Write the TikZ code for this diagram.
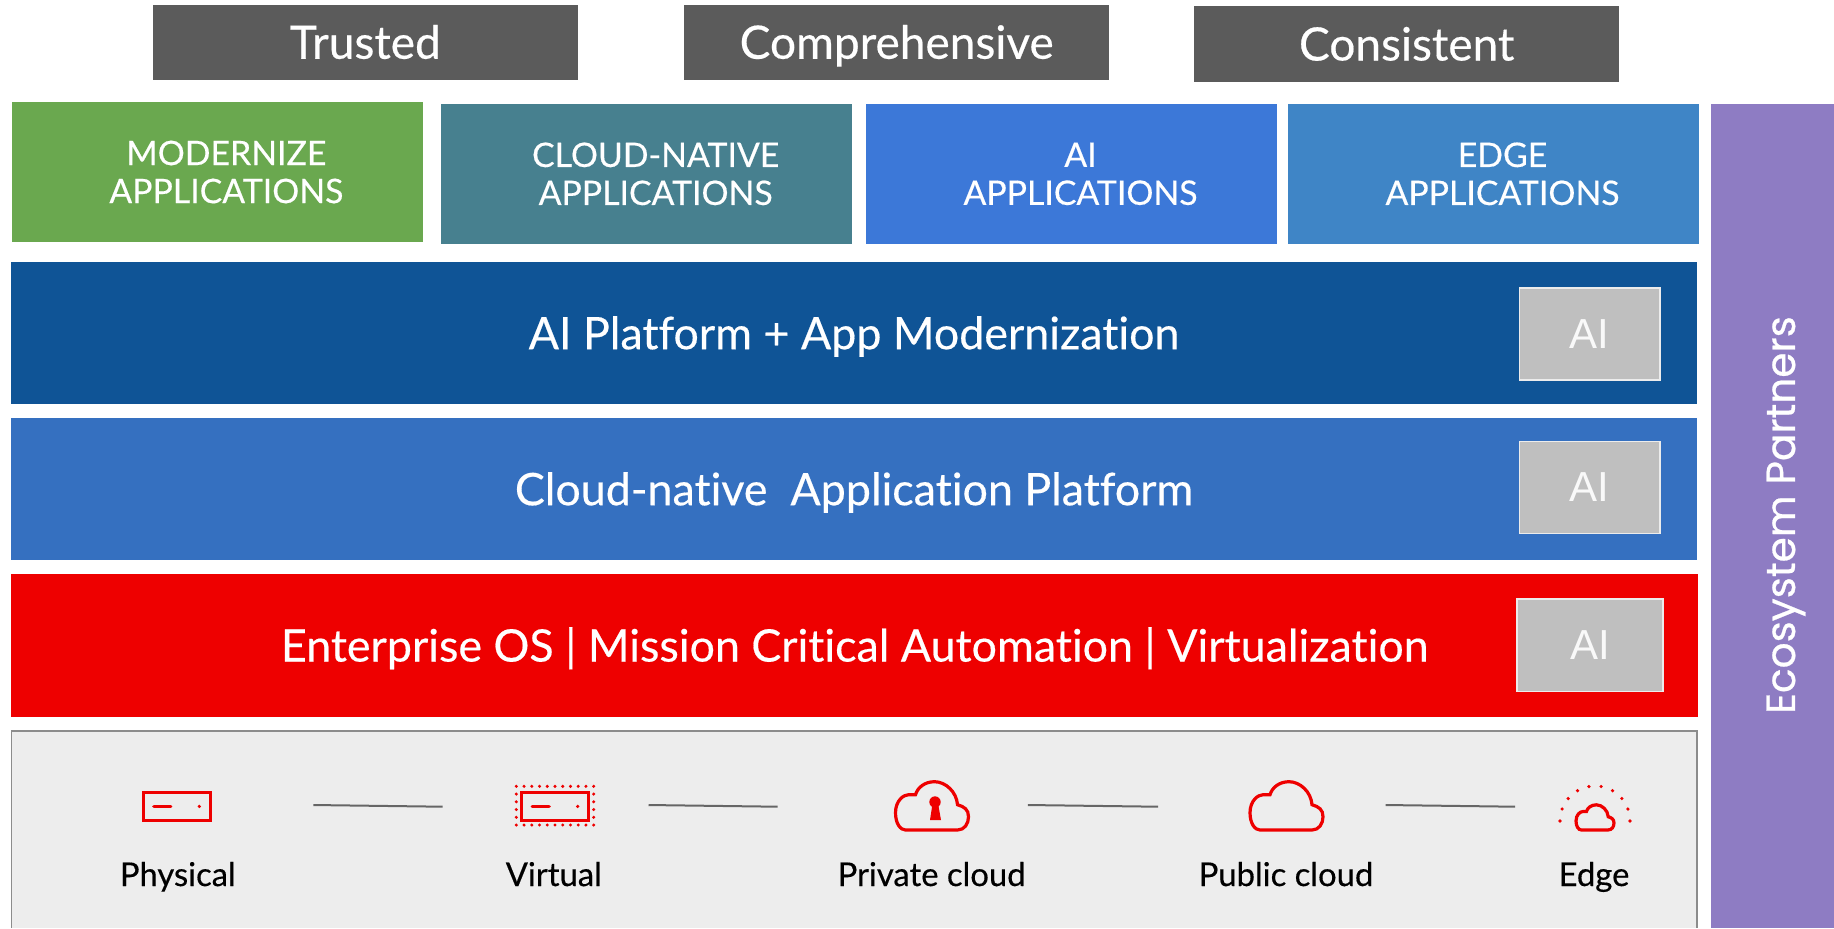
\documentclass[tikz,border=0pt]{standalone}
\usepackage{fontspec}
\setmainfont{Lato}[FakeBold=0.4, Ligatures=NoCommon]
\newfontfamily\aifont{Liberation Sans}
\newfontfamily\partnerfont{Poppins}[FakeBold=0.6]
\definecolor{pillargray}{HTML}{5B5B5B}
\definecolor{appgreen}{HTML}{6AA84F}
\definecolor{appteal}{HTML}{47808F}
\definecolor{appblue}{HTML}{3C78D8}
\definecolor{edgeblue}{HTML}{3F85C6}
\definecolor{platdark}{HTML}{0F5496}
\definecolor{platmid}{HTML}{3570C0}
\definecolor{osred}{HTML}{EE0000}
\definecolor{panelgray}{HTML}{EDEDED}
\definecolor{partnerpurple}{HTML}{8E7CC3}

\tikzset{
	pillar/.style = {fill=pillargray, text=white, font=\fontsize{23}{27}\selectfont},
	pillartext/.style = {text height=16.5pt, text depth=0pt},
	appbox/.style = {text=white, align=center, xshift=4.5pt, font=\fontsize{16.9}{19}\selectfont},
	barbox/.style = {text=white, text height=16.2pt, text depth=0pt, font=\fontsize{22.4}{27}\selectfont},
	aibox/.style = {draw=white!85!gray, line width=0.8pt, fill=black!25, text=white!95!gray, font=\aifont\fontsize{21}{25}\selectfont},
	deploy/.style = {anchor=base, font=\fontsize{16.4}{20}\selectfont},
	joinline/.style = {draw=black!60, line width=1pt},
	cloudicon/.pic = {
		\draw[osred, line width=1.6pt] (10,48.3) -- (62,48.3) .. controls (69,48.3) and (73,42) .. (73,35)
			.. controls (73,28) and (69,25) .. (62,23) .. controls (61,10) and (50,0) .. (39,0)
			.. controls (29,0) and (22,6) .. (20,13) -- (13,13) .. controls (8,13) and (0,19) .. (0,31)
			.. controls (0,42) and (5,48.3) .. (10,48.3) -- cycle;
	},
	servericon/.pic = {
		\draw[osred, line width=1.7pt] (0,0) rectangle (67,27.5);
		\draw[osred, line width=1.6pt, line cap=round] (10.5,13.7) -- (27.5,13.7);
		\fill[osred] (56,13.7) circle (1.8);
	}
}

\begin{document}
\begin{tikzpicture}[x=0.5pt, y=-0.5pt]
	\useasboundingbox (0,0) rectangle (1834,928);
	% top row
	\draw[pillar, draw=none] (152.6,4.5) rectangle node[pillartext] (trusted) {Trusted} (578,80);
	\draw[pillar, draw=none] (684,4.5) rectangle node[pillartext] (comprehensive) {Comprehensive} (1109.4,80);
	\draw[pillar, draw=none] (1194,6.3) rectangle node[pillartext] (consistent) {Consistent} (1619.4,81.7);
	% application boxes
	\fill[appgreen] (11.7,102) rectangle node[appbox] (modernize) {MODERNIZE\\APPLICATIONS} (423,242);
	\fill[appteal] (441.3,104) rectangle node[appbox] (cloudapps) {CLOUD-NATIVE\\APPLICATIONS} (852,243.7);
	\fill[appblue] (866,104) rectangle node[appbox] (aiapps) {AI\\APPLICATIONS} (1277,243.7);
	\fill[edgeblue] (1288,104) rectangle node[appbox] (edgeapps) {EDGE\\APPLICATIONS} (1699,243.7);
	% platform bars
	\fill[platdark] (11,262) rectangle node[barbox] (aiplatform) {AI Platform + App Modernization} (1697,404);
	\fill[platmid] (11,418) rectangle node[barbox] (appplatform) {Cloud-native\ \ Application Platform} (1697,560);
	\fill[osred] (11,574) rectangle node[barbox] (enterprise) {Enterprise OS | Mission Critical Automation | Virtualization} (1698.3,716.7);
	\draw[aibox] (1519.3,287.7) rectangle node (aione) {AI} (1660,380);
	\draw[aibox] (1519.3,441.3) rectangle node (aitwo) {AI} (1660,533.3);
	\draw[aibox] (1516.7,599) rectangle node (aithree) {AI} (1663,691.3);
	% partners
	\fill[partnerpurple] (1710.5,104) rectangle (1834,928);
	\node[rotate=90, text=white, font=\partnerfont\fontsize{20.3}{24}\selectfont] (partners) at (1786,515) {Ecosystem Partners};
	% footprint panel
	\fill[panelgray] (11.5,731) rectangle (1697,928);
	\draw[black!45, line width=0.9pt] (11.5,928) -- (11.5,731) -- (1697,731) -- (1697,928);
	\pic at (143.3,792.7) {servericon};
	\pic at (521.7,792.7) {servericon};
	\foreach \i in {0,...,10} {
		\fill[osred] (516.3+\i*7.74,786.3) circle (1.7);
		\fill[osred] (516.3+\i*7.74,825) circle (1.7);
	}
	\foreach \i in {1,...,4} {
		\fill[osred] (516.3,786.3+\i*7.74) circle (1.7);
		\fill[osred] (593.7,786.3+\i*7.74) circle (1.7);
	}
	\pic at (895.5,781.7) {cloudicon};
	\fill[osred] (932.3,805) -- (938.3,805) -- (941,820) -- (930,820) -- cycle;
	\fill[osred] (935,802) circle (5.7);
	\pic at (1250,781.7) {cloudicon};
	\pic[scale=0.52] at (1576,804.8) {cloudicon};
	\foreach \a in {0,20,...,180} {\fill[osred] (1595,821) +(\a:35 and -35) circle (1.8);}
	% labels
	\foreach \name/\cx/\txt in {physical/177.8/Physical, virtual/553.8/Virtual, private/931.6/Private cloud, public/1286/Public cloud, edge/1594/Edge} {
		\node[deploy] (\name) at (\cx,886) {\txt};
	}
	% joining lines
	\foreach \i/\xa/\xb in {1/313.3/442.7, 2/648.5/777.6, 3/1027.8/1158, 4/1385.6/1515.2} {
		\coordinate (J\i a) at (\xa,805);
		\coordinate (J\i b) at (\xb,806.7);
		\draw[joinline] (J\i a) -- (J\i b);
	}
\end{tikzpicture}
\end{document}
